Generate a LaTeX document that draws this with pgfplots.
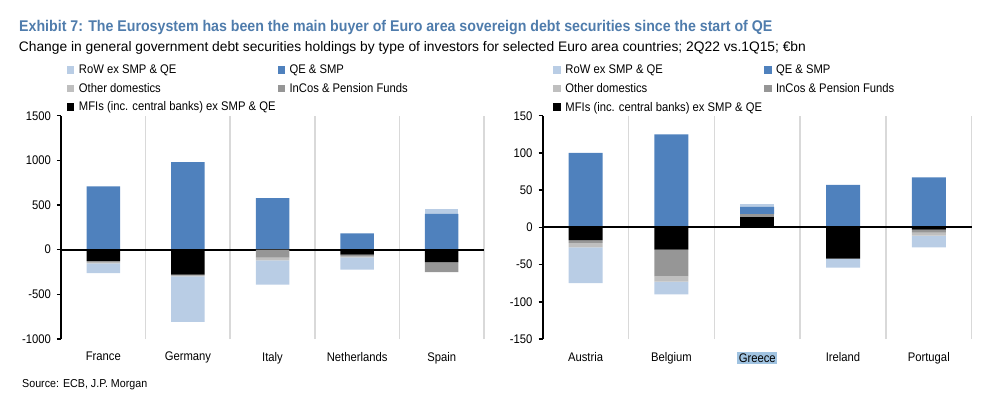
\documentclass[border=0pt]{standalone}
\usepackage{pgfplots}
\pgfplotsset{compat=1.18}
\usepackage{pgfplotstable}
\usepackage{fontspec}
\setmainfont{Liberation Sans}[FakeStretch=0.9]
\newfontfamily\titlefam{Liberation Sans}[FakeStretch=0.915]
\newfontfamily\subfam{Liberation Sans}
\newfontfamily\srcfam{Liberation Sans}[FakeStretch=0.93]
\definecolor{qec}{RGB}{79,129,189}
\definecolor{rowc}{RGB}{185,205,229}
\definecolor{othc}{RGB}{191,191,191}
\definecolor{incc}{RGB}{150,150,150}
\definecolor{mfic}{RGB}{0,0,0}
\definecolor{sepgray}{RGB}{217,217,217}
\definecolor{titleblue}{RGB}{79,124,172}
\definecolor{hl}{RGB}{160,195,225}
\newcommand\ticksize{\fontsize{12.5bp}{15bp}\selectfont}
\setlength{\fboxsep}{1.5bp}

% Left panel: positive and negative parts (series: MFIs, InCos, Other domestics, QE & SMP, RoW)
\pgfplotstableread{
x mfi inc oth qe row
0 0 0 0 710 0
1 0 0 0 980 0
2 0 0 0 578 0
3 0 0 0 183 0
4 0 0 0 400 60
}\leftpos
\pgfplotstableread{
x mfi inc oth qe row
0 -125 -15 -12 0 -110
1 -280 -10 -8 0 -510
2 0 -90 -30 0 -270
3 -55 -18 -12 0 -138
4 -138 -112 0 0 0
}\leftneg
% Right panel
\pgfplotstableread{
x mfi inc oth qe row
0 0 0 0 100 0
1 0 0 0 125 0
2 14 3.5 0 10 4.5
3 0 0 2 55 0
4 0 0 0 67 0
}\rightpos
\pgfplotstableread{
x mfi inc oth qe row
0 -17 -4 -6 0 -48
1 -30 -36 -7 0 -17
2 0 0 0 0 0
3 -42 0 0 0 -12
4 -3 -4 -4 0 -16
}\rightneg

\pgfplotsset{
  jpm/.style={
    scale only axis, height=223.3bp,
    ybar stacked,
    xmin=-0.5, xmax=4.5,
    xtick={0,...,4},
    minor xtick={0.5,1.5,2.5,3.5,4.5},
    xminorgrids=true,
    minor x grid style={sepgray, line width=1.5bp},
    minor x tick style={draw=none},
    major x tick style={draw=none},
    axis line style={draw=none},
    ytick pos=left, tick align=outside,
    major y tick style={black, line width=1.5bp},
    major tick length=4bp,
    yticklabel style={font=\ticksize, inner sep=0pt, xshift=-6bp},
    xticklabel style={font=\ticksize, inner sep=0pt, yshift=-9bp},
    /pgf/number format/assume math mode=true,
    /pgf/number format/1000 sep={},
    clip=false,
    legend columns=2,
    legend cell align=left,
    legend style={draw=none, fill=none, font=\ticksize, anchor=north west,
      inner sep=0pt, row sep=4bp,
      /tikz/every odd column/.append style={column sep=2.5bp}},
    legend image code/.code={\fill[##1, draw=none] (0bp,-3.5bp) rectangle (7.5bp,4bp);},
  },
  jpmhidden/.style={
    scale only axis, height=223.3bp, ybar stacked,
    xmin=-0.5, xmax=4.5, hide axis, clip=false,
  },
}

\begin{document}
\begin{tikzpicture}
\useasboundingbox (0bp,-409bp) rectangle (990bp,0bp);

% ---------------- Left panel ----------------
\begin{axis}[jpm, at={(61bp,-339bp)}, anchor=south west, width=423bp,
  ymin=-1000, ymax=1500, ytick={-1000,-500,0,500,1000,1500},
  bar width=33.5bp,
  xticklabels={France,Germany,Italy,Netherlands,Spain},
  legend style={at={(rel axis cs:0.0135,1.236)}}]
\addlegendimage{fill=rowc}\addlegendentry{RoW ex SMP \& QE}
\addlegendimage{fill=qec}\addlegendentry{QE \& SMP}
\addlegendimage{fill=othc}\addlegendentry{Other domestics}
\addlegendimage{fill=incc}\addlegendentry{InCos \& Pension Funds}
\addlegendimage{fill=mfic}\addlegendentry{MFIs (inc. central banks) ex SMP \& QE}
\addplot[fill=mfic, draw=none] table[x=x, y=mfi] {\leftpos};
\addplot[fill=incc, draw=none] table[x=x, y=inc] {\leftpos};
\addplot[fill=othc, draw=none] table[x=x, y=oth] {\leftpos};
\addplot[fill=qec, draw=none] table[x=x, y=qe] {\leftpos};
\addplot[fill=rowc, draw=none] table[x=x, y=row] {\leftpos};
\end{axis}
\begin{axis}[jpmhidden, at={(61bp,-339bp)}, anchor=south west, width=423bp,
  ymin=-1000, ymax=1500, bar width=33.5bp]
\addplot[fill=mfic, draw=none] table[x=x, y=mfi] {\leftneg};
\addplot[fill=incc, draw=none] table[x=x, y=inc] {\leftneg};
\addplot[fill=othc, draw=none] table[x=x, y=oth] {\leftneg};
\addplot[fill=qec, draw=none] table[x=x, y=qe] {\leftneg};
\addplot[fill=rowc, draw=none] table[x=x, y=row] {\leftneg};
\draw[black, line width=2.2bp] (axis cs:-0.5,0) -- (axis cs:4.5,0);
\draw[black, line width=2.2bp] (rel axis cs:0,0) -- (rel axis cs:0,1);
\end{axis}

% ---------------- Right panel ----------------
\begin{axis}[jpm, at={(542.7bp,-339bp)}, anchor=south west, width=429bp,
  ymin=-150, ymax=150, ytick={-150,-100,-50,0,50,100,150},
  bar width=34bp,
  xticklabels={Austria,Belgium,{\colorbox{hl}{Greece}},Ireland,Portugal},
  legend style={at={(rel axis cs:0.0245,1.236)}}]
\addlegendimage{fill=rowc}\addlegendentry{RoW ex SMP \& QE}
\addlegendimage{fill=qec}\addlegendentry{QE \& SMP}
\addlegendimage{fill=othc}\addlegendentry{Other domestics}
\addlegendimage{fill=incc}\addlegendentry{InCos \& Pension Funds}
\addlegendimage{fill=mfic}\addlegendentry{MFIs (inc. central banks) ex SMP \& QE}
\addplot[fill=mfic, draw=none] table[x=x, y=mfi] {\rightpos};
\addplot[fill=incc, draw=none] table[x=x, y=inc] {\rightpos};
\addplot[fill=othc, draw=none] table[x=x, y=oth] {\rightpos};
\addplot[fill=qec, draw=none] table[x=x, y=qe] {\rightpos};
\addplot[fill=rowc, draw=none] table[x=x, y=row] {\rightpos};
\end{axis}
\begin{axis}[jpmhidden, at={(542.7bp,-339bp)}, anchor=south west, width=429bp,
  ymin=-150, ymax=150, bar width=34bp]
\addplot[fill=mfic, draw=none] table[x=x, y=mfi] {\rightneg};
\addplot[fill=incc, draw=none] table[x=x, y=inc] {\rightneg};
\addplot[fill=othc, draw=none] table[x=x, y=oth] {\rightneg};
\addplot[fill=qec, draw=none] table[x=x, y=qe] {\rightneg};
\addplot[fill=rowc, draw=none] table[x=x, y=row] {\rightneg};
\draw[black, line width=2.2bp] (axis cs:-0.5,0) -- (axis cs:4.5,0);
\draw[black, line width=2.2bp] (rel axis cs:0,0) -- (rel axis cs:0,1);
\end{axis}

% ---------------- Titles ----------------
\node[anchor=base west, inner sep=0pt, text=titleblue,
  font=\titlefam\bfseries\fontsize{15.5bp}{18bp}\selectfont] at (19bp,-31.7bp)
  {Exhibit 7: The Eurosystem has been the main buyer of Euro area sovereign debt securities since the start of QE};
\node[anchor=base west, inner sep=0pt, font=\subfam\fontsize{13.8bp}{16bp}\selectfont] at (18.7bp,-51.7bp)
  {Change in general government debt securities holdings by type of investors for selected Euro area countries; 2Q22 vs.1Q15; €bn};
\node[anchor=base west, inner sep=0pt, font=\srcfam\fontsize{11.5bp}{13bp}\selectfont] at (22bp,-387bp)
  {Source: ECB, J.P. Morgan};
\end{tikzpicture}
\end{document}
